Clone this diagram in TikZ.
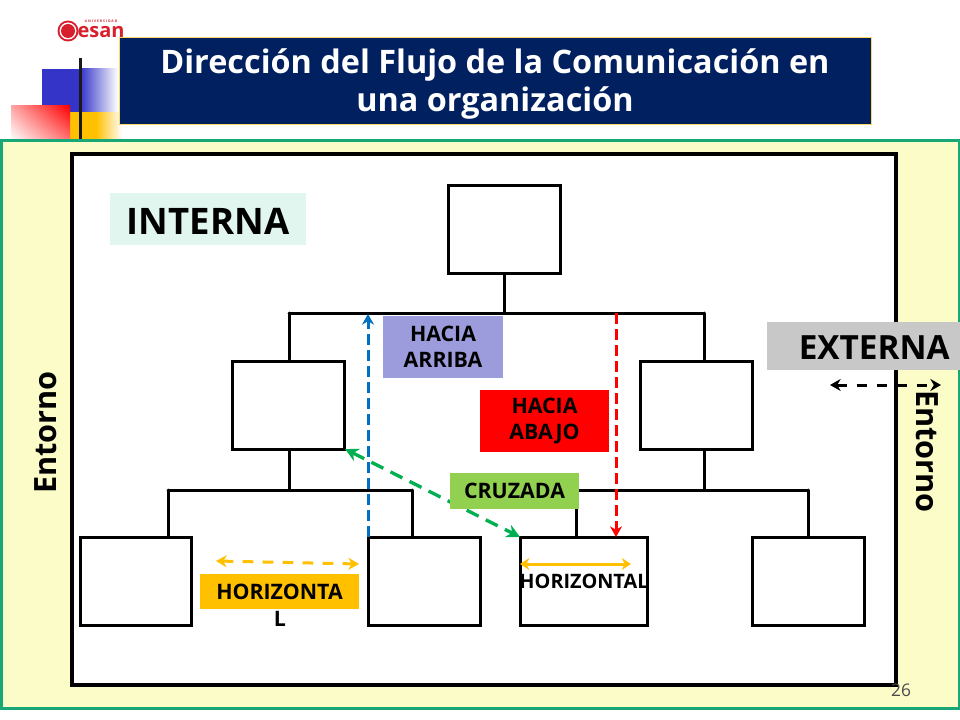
\documentclass[tikz,border=0pt]{standalone}
\usepackage{fontspec}
\setmainfont{Open Sans}
\usepackage{xcolor}
\usetikzlibrary{arrows.meta,shadings}
\definecolor{navy}{HTML}{002060}
\definecolor{paleyellow}{HTML}{FBFCC8}
\definecolor{framegreen}{HTML}{18A878}
\definecolor{mintbg}{HTML}{E0F6EE}
\definecolor{grayext}{HTML}{C8C8C8}
\definecolor{lilac}{HTML}{9C9CDC}
\definecolor{leaf}{HTML}{92D050}
\definecolor{amber}{HTML}{FFC000}
\definecolor{upblue}{HTML}{0070C0}
\definecolor{crossgreen}{HTML}{00B050}
\definecolor{esanred}{HTML}{D8202C}
\definecolor{squareblue}{HTML}{3434C8}
\tikzstyle{orgbox}=[draw=black, line width=2.25pt, fill=white, minimum height=66pt, inner sep=0pt]
\tikzstyle{orgline}=[draw=black, line width=2.25pt, line cap=round]
\tikzstyle{tag}=[font=\bfseries\fontsize{16}{19.5}\selectfont, align=center, inner sep=0pt, text=black]
\tikzstyle{bigtag}=[font=\bfseries\fontsize{27.4}{30}\selectfont, inner sep=0pt, text=black]
\tikzstyle{flow}=[line width=2.5pt, dash pattern=on 10pt off 6pt, {Stealth[length=10pt,width=10pt]}-{Stealth[length=10pt,width=10pt]}]
\tikzstyle{thinflow}=[line width=2.25pt, dash pattern=on 8pt off 7pt, {Stealth[length=8pt,width=9pt]}-{Stealth[length=8pt,width=9pt]}]
\tikzstyle{oneway}=[line width=2.25pt, dash pattern=on 8.25pt off 3.75pt, -{Stealth[length=8pt,width=9pt]}]
\begin{document}
\begin{tikzpicture}[x=0.75pt,y=-0.75pt]
\useasboundingbox (0,0) rectangle (960,720);
\fill[white] (0,0) rectangle (960,720);
% logo and corner squares
\shade[left color=squareblue, right color=white] (80,69) rectangle (118,113);
\fill[squareblue] (42,69) rectangle (80,113);
\shade[left color=amber, right color=white, middle color=amber] (70,113) rectangle (122,140);
\shade[shading=bilinear interpolation, lower left=white, upper right=red, upper left=red!35, lower right=red!55] (11,106) rectangle (70,140);
\fill[black!90] (78.5,58) rectangle (81.5,140);
\fill[esanred] (68,31) circle (10.5);
\fill[white] (68,31) circle (8.5);
\fill[esanred] (68,31) circle (7);
\node[inner sep=0pt, text=esanred, font=\bfseries\fontsize{15}{15}\selectfont] (logo) at (101,32.5) {esan};
\node[inner sep=0pt, text=esanred, font=\bfseries\fontsize{2.6}{3}\selectfont] (univ) at (101,21) {U N I V E R S I D A D};
% title
\node[draw=amber!60, line width=.75pt, fill=navy, minimum width=564pt, minimum height=65pt, inner sep=0pt] (title) at (495,81) {};
\node[text=white, inner sep=0pt, align=center, font=\bfseries\fontsize{24.3}{28.5}\selectfont] (titletext) at (495,84) {Dirección del Flujo de la Comunicación en\\una organización};
% frame
\draw[draw=framegreen, line width=2.25pt, fill=paleyellow] (1,141) rectangle (959,708);
\draw[draw=black, line width=3pt, fill=white] (72,154) rectangle (896,685);
\node[text=black!70, inner sep=0pt, font=\fontsize{13}{13}\selectfont] (page) at (901,690) {26};
% boxes
\foreach \n/\x/\y/\w in {top/504/229.5/84,ml/288/405/84,mr/696/405/84,ba/135.5/581.5/83.25,bb/424/581.5/84,bc/583.5/581.5/95.25,bd/808/581.5/84} {
	\node[orgbox, minimum width=\w pt] (\n) at (\x,\y) {};
}
\foreach \n/\x/\y in {t/504/313,p/289/313,q/704/313,r/289/490,s/704/490,u/168/490,v/412/490,w/576/490,z/808/490} {
	\coordinate (c\n) at (\x,\y);
}
\draw[orgline] (top.south) -- (ct);
\draw[orgline] (cp) -- (cq);
\draw[orgline] (cp) -- (cp |- ml.north);
\draw[orgline] (cq) -- (cq |- mr.north);
\draw[orgline] (cr |- ml.south) -- (cr);
\draw[orgline] (cs |- mr.south) -- (cs);
\draw[orgline] (cu) -- (cv);
\draw[orgline] (cw) -- (cz);
\draw[orgline] (cu) -- (cu |- ba.north);
\draw[orgline] (cv) -- (cv |- bb.north);
\draw[orgline] (cw) -- (cw |- bc.north);
\draw[orgline] (cz) -- (cz |- bd.north);
% arrows
\coordinate (upa) at (368,537);
\coordinate (upb) at (368,314);
\coordinate (dna) at (616,313);
\coordinate (dnb) at (616,537);
\coordinate (xa) at (345,449);
\coordinate (xb) at (520,537);
\coordinate (ha) at (216,561);
\coordinate (hb) at (359,564);
\coordinate (ia) at (520,564);
\coordinate (ib) at (631,564);
\coordinate (ea) at (830,385);
\coordinate (eb) at (941,385);
\draw[oneway, upblue] (upa) -- (upb);
\draw[oneway, red] (dna) -- (dnb);
\draw[flow, crossgreen] (xa) -- (xb);
\draw[thinflow, amber] (ha) -- (hb);
\draw[amber, line width=2.25pt, {Stealth[length=7pt,width=9pt]}-{Stealth[length=7pt,width=9pt]}] (ia) -- (ib);
\draw[thinflow, black] (ea) -- (eb);
% labels
\node[fill=mintbg, minimum width=147pt, minimum height=39pt] (internabg) at (208,219) {};
\node[bigtag] (interna) at (208,221) {INTERNA};
\node[fill=grayext, minimum width=145pt, minimum height=36pt] (externabg) at (863.5,346) {};
\node[bigtag, font=\bfseries\fontsize{25}{28}\selectfont, anchor=east] (externa) at (950,348) {EXTERNA};
\node[tag, fill=lilac, minimum width=90pt, minimum height=46.5pt] (arriba) at (443,347) {HACIA\\ARRIBA};
\node[tag, fill=red, minimum width=96.75pt, minimum height=46.5pt] (abajo) at (544.5,421) {HACIA\\ABAJO};
\node[tag, fill=leaf, minimum width=96.75pt, minimum height=27pt] (cruzada) at (514.5,491) {CRUZADA};
\node[tag, fill=amber, minimum width=119.25pt, minimum height=26.25pt] (horiz) at (279.5,591.5) {HORIZONTA};
\node[tag] (horizl) at (280,619) {L};
\node[tag, font=\bfseries\fontsize{14.9}{15}\selectfont] (horizb) at (584,581) {HORIZONTAL};
\node[font=\bfseries\fontsize{23}{23}\selectfont, rotate=90, inner sep=0pt] (envl) at (46,432.5) {Entorno};
\node[font=\bfseries\fontsize{23}{23}\selectfont, rotate=-90, inner sep=0pt] (envr) at (927,451.5) {Entorno};
\end{tikzpicture}
\end{document}
